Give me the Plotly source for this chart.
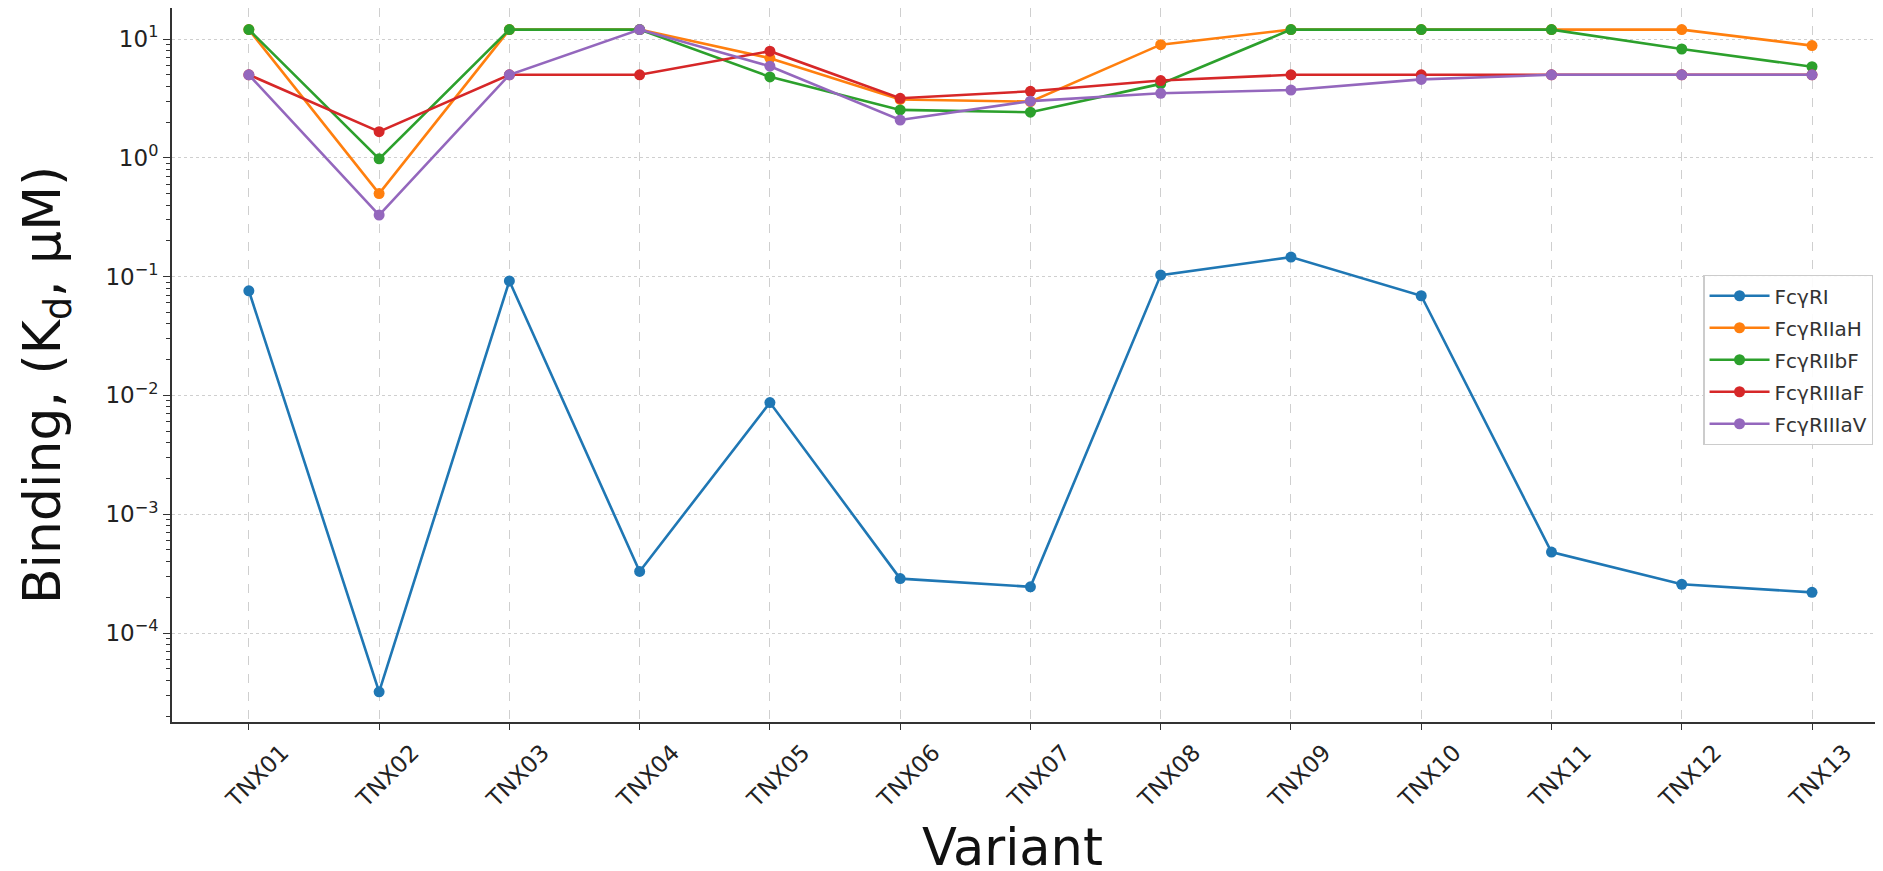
import plotly.graph_objects as go

variants = ["TNX01", "TNX02", "TNX03", "TNX04", "TNX05", "TNX06", "TNX07",
            "TNX08", "TNX09", "TNX10", "TNX11", "TNX12", "TNX13"]

fcgRI = [0.076, 3.2e-5, 0.092, 3.3e-4, 0.0087, 2.87e-4, 2.45e-4,
         0.103, 0.146, 0.069, 4.8e-4, 2.57e-4, 2.2e-4]
fcgRIIaH = [12, 0.50, 12, 12, 6.9, 3.1, 2.97, 8.96, 12, 12, 12, 12, 8.8]
fcgRIIbF = [12, 0.98, 12, 12, 4.8, 2.53, 2.42, 4.19, 12, 12, 12, 8.24, 5.85]
fcgRIIIaF = [5, 1.66, 5, 5, 7.9, 3.17, 3.63, 4.47, 5, 5, 5, 5, 5]
fcgRIIIaV = [5, 0.33, 5, 12, 5.9, 2.08, 3.0, 3.49, 3.72, 4.57, 5, 5, 5]

series_names = ["FcγRI", "FcγRIIaH", "FcγRIIbF", "FcγRIIIaF", "FcγRIIIaV"]
series_values = [fcgRI, fcgRIIaH, fcgRIIbF, fcgRIIIaF, fcgRIIIaV]
colors = ["#1f77b4", "#ff7f0e", "#2ca02c", "#d62728", "#9467bd"]

ytick_vals = [1e-4, 1e-3, 1e-2, 1e-1, 1, 10]
ytick_text = ["10<sup>−4</sup>", "10<sup>−3</sup>", "10<sup>−2</sup>",
              "10<sup>−1</sup>", "10<sup>0</sup>", "10<sup>1</sup>"]

x_title = "Variant"
y_title = "Binding, (K<sub>d</sub>, μM)"

fig = go.Figure()
for name, vals, col in zip(series_names, series_values, colors):
    fig.add_trace(go.Scatter(
        x=list(range(len(variants))), y=vals, name=name, mode="lines+markers",
        legendgroup=name,
        line=dict(color=col, width=2.6),
        marker=dict(color=col, size=11),
    ))

# page body has an 8px margin; compensate so the plot area matches the reference
fig.update_layout(
    width=1875, height=863,
    margin=dict(l=164, r=0, t=0, b=149),
    paper_bgcolor="white", plot_bgcolor="white",
    font=dict(family="DejaVu Sans", color="#262626"),
    legend=dict(
        x=0.895, y=0.626, xanchor="left", yanchor="top",
        bgcolor="rgba(255,255,255,0.9)", bordercolor="#cccccc", borderwidth=1.2,
        font=dict(family="DejaVu Sans", size=20, color="#333333"),
        tracegroupgap=3, itemwidth=60,
    ),
    showlegend=True,
    annotations=[
        dict(text=y_title, xref="paper", yref="paper", x=-0.0736, y=0.472,
             xanchor="center", yanchor="middle", textangle=-90, showarrow=False,
             font=dict(family="DejaVu Sans", size=52, color="#111111")),
        dict(text=x_title, xref="paper", yref="paper", x=0.491, y=-0.176,
             xanchor="center", yanchor="middle", showarrow=False,
             font=dict(family="DejaVu Sans", size=51, color="#111111")),
    ],
)

fig.update_xaxes(
    range=[-0.59, 12.545],
    tickmode="array", tickvals=list(range(len(variants))), ticktext=variants,
    tickangle=-45, tickfont=dict(family="DejaVu Sans", size=23, color="#222222"),
    ticklabelshift=33,
    ticks="outside", ticklen=6, tickcolor="#333333",
    showline=True, linecolor="#333333", linewidth=2,
    showgrid=True, gridcolor="#cfcfcf", griddash="dash", gridwidth=1,
    zeroline=False,
)

fig.update_yaxes(
    type="log", range=[-4.749, 1.261],
    tickmode="array", tickvals=ytick_vals, ticktext=ytick_text,
    tickfont=dict(family="DejaVu Sans", size=23, color="#222222"),
    ticks="outside", ticklen=7, tickcolor="#333333",
    minor=dict(ticks="outside", ticklen=4, tickcolor="#333333", showgrid=False, dtick="D1"),
    showline=True, linecolor="#333333", linewidth=2,
    showgrid=True, gridcolor="#cfcfcf", griddash="dot", gridwidth=1.2,
    zeroline=False,
)

fig.write_html("out.html")
